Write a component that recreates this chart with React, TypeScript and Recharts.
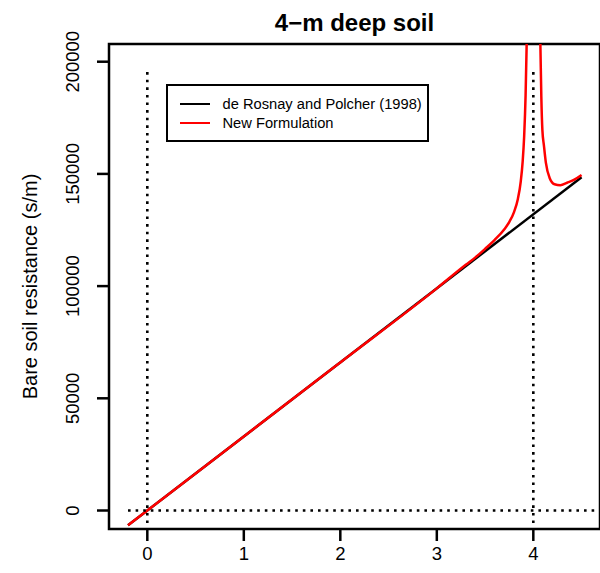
import { LineChart, Line, XAxis, YAxis, ReferenceLine, ReferenceArea, Legend } from "recharts"

const FONT = "'Liberation Sans', Arial, Helvetica, sans-serif"

// axis ticks
const depthTicks = [0, 1, 2, 3, 4]
const resistanceTicks = [0, 50000, 100000, 150000, 200000]

// series names, in legend order
const seriesNames = ["de Rosnay and Polcher (1998)", "New Formulation"]

// de Rosnay and Polcher (1998): straight line
const rosnayDepth = [-0.2, 4.5]
const rosnayResistance = [-6600, 148500]

// new formulation (blows up near 4 m)
const newDepth = [
    -0.2, 0, 1, 2, 3, 3.3, 3.4, 3.5, 3.6, 3.7, 3.75, 3.8, 3.84, 3.87, 3.89, 3.905, 3.92, 3.93, 3.94,
    3.96, 3.98, 4.01, 4.03, 4.05, 4.065, 4.073, 4.083, 4.094, 4.11, 4.13, 4.17, 4.22, 4.28, 4.35, 4.42, 4.5,
]
const newResistance = [
    -6600, 0, 33000, 66000, 99000, 109500, 112800, 116600, 120600, 125350, 128500, 133000, 138850,
    146700, 155700, 166700, 185100, 205500, 239000, 430000, 900000, 900000, 675000, 302000, 223400,
    208000, 184400, 169500, 162600, 155000, 148100, 145400, 144950, 146050, 147300, 149500,
]

const rosnayData = rosnayDepth.map((d, i) => ({ depth: d, resistance: rosnayResistance[i] }))
const newData = newDepth.map((d, i) => ({ depth: d, resistance: newResistance[i] }))

const X_DOMAIN: [number, number] = [-0.397, 4.691]
const Y_DOMAIN: [number, number] = [-8240, 207890]

const dotted = { stroke: "#000", strokeWidth: 2.6, strokeDasharray: "2.6 5" }

const XTick = ({ x, y, payload }: any) => (
    <text x={x} y={y + 18.7} textAnchor="middle" fontFamily={FONT} fontSize={18.5} fill="#000">
        {payload.value}
    </text>
)

const YTick = ({ x, y, payload }: any) => {
    const bx = x - 18.4
    return (
        <text
            x={bx}
            y={y}
            transform={`rotate(-90 ${bx} ${y})`}
            textAnchor="middle"
            fontFamily={FONT}
            fontSize={18.5}
            fill="#000"
        >
            {payload.value}
        </text>
    )
}

const LegendBox = ({ payload }: any) => {
    const items = [...(payload || [])].sort(
        (a: any, b: any) => seriesNames.indexOf(a.value) - seriesNames.indexOf(b.value)
    )
    return (
        <div
            style={{
                boxSizing: "border-box",
                width: 263,
                height: 58,
                border: "2.5px solid #000",
                background: "#fff",
                padding: "8px 0 0 11.5px",
                fontFamily: FONT,
                fontSize: 14.7,
                color: "#000",
                textAlign: "left",
            }}
        >
            {items.map((p: any) => (
                <div key={p.value} style={{ display: "flex", alignItems: "center", height: 19 }}>
                    <span
                        style={{
                            display: "inline-block",
                            width: 30,
                            height: 0,
                            borderTop: `2.5px solid ${p.color}`,
                            marginRight: 13,
                        }}
                    />
                    <span style={{ whiteSpace: "nowrap" }}>{p.value}</span>
                </div>
            ))}
        </div>
    )
}

export default function App() {
    return (
        <div style={{ position: "absolute", left: 0, top: 0, width: 600, height: 573, background: "#fff" }}>
            <LineChart width={600} height={573} margin={{ top: 44, right: 0, bottom: 0, left: 0 }}>
                <XAxis
                    type="number"
                    dataKey="depth"
                    domain={X_DOMAIN}
                    ticks={depthTicks}
                    interval={0}
                    allowDataOverflow
                    axisLine={false}
                    tickLine={{ stroke: "#000", strokeWidth: 2.5 }}
                    tickSize={12}
                    tickMargin={0}
                    tick={XTick}
                    height={44}
                />
                <YAxis
                    type="number"
                    domain={Y_DOMAIN}
                    ticks={resistanceTicks}
                    interval={0}
                    allowDataOverflow
                    axisLine={false}
                    tickLine={{ stroke: "#000", strokeWidth: 2.5 }}
                    tickSize={12}
                    tickMargin={0}
                    tick={YTick}
                    width={109}
                />
                <Line
                    data={rosnayData}
                    dataKey="resistance"
                    name={seriesNames[0]}
                    type="linear"
                    stroke="#000"
                    strokeWidth={2.5}
                    dot={false}
                    activeDot={false}
                    isAnimationActive={false}
                />
                <Line
                    data={newData}
                    dataKey="resistance"
                    name={seriesNames[1]}
                    type="monotone"
                    stroke="#ff0000"
                    strokeWidth={2.5}
                    dot={false}
                    activeDot={false}
                    isAnimationActive={false}
                />
                <ReferenceLine segment={[{ x: 0, y: -5600 }, { x: 0, y: 197000 }]} {...dotted} />
                <ReferenceLine segment={[{ x: 4, y: -5600 }, { x: 4, y: 197000 }]} {...dotted} />
                <ReferenceLine segment={[{ x: -0.2, y: 0 }, { x: X_DOMAIN[1], y: 0 }]} {...dotted} />
                <ReferenceArea
                    x1={X_DOMAIN[0]}
                    x2={X_DOMAIN[1]}
                    y1={Y_DOMAIN[0]}
                    y2={Y_DOMAIN[1]}
                    fill="none"
                    fillOpacity={0}
                    stroke="#000"
                    strokeWidth={2.5}
                    ifOverflow="visible"
                />
                <Legend
                    layout="vertical"
                    align="center"
                    verticalAlign="middle"
                    content={LegendBox}
                    wrapperStyle={{ left: 166, top: 84, width: "auto", height: "auto" }}
                />
            </LineChart>
            <svg
                width={600}
                height={573}
                style={{ position: "absolute", left: 0, top: 0, pointerEvents: "none" }}
            >
                <text x={354.5} y={31} textAnchor="middle" fontFamily={FONT} fontWeight="bold" fontSize={24} fill="#000">
                    4−m deep soil
                </text>
                <text
                    x={37}
                    y={286.5}
                    transform="rotate(-90 37 286.5)"
                    textAnchor="middle"
                    fontFamily={FONT}
                    fontSize={20}
                    fill="#000"
                >
                    Bare soil resistance (s/m)
                </text>
            </svg>
        </div>
    )
}
